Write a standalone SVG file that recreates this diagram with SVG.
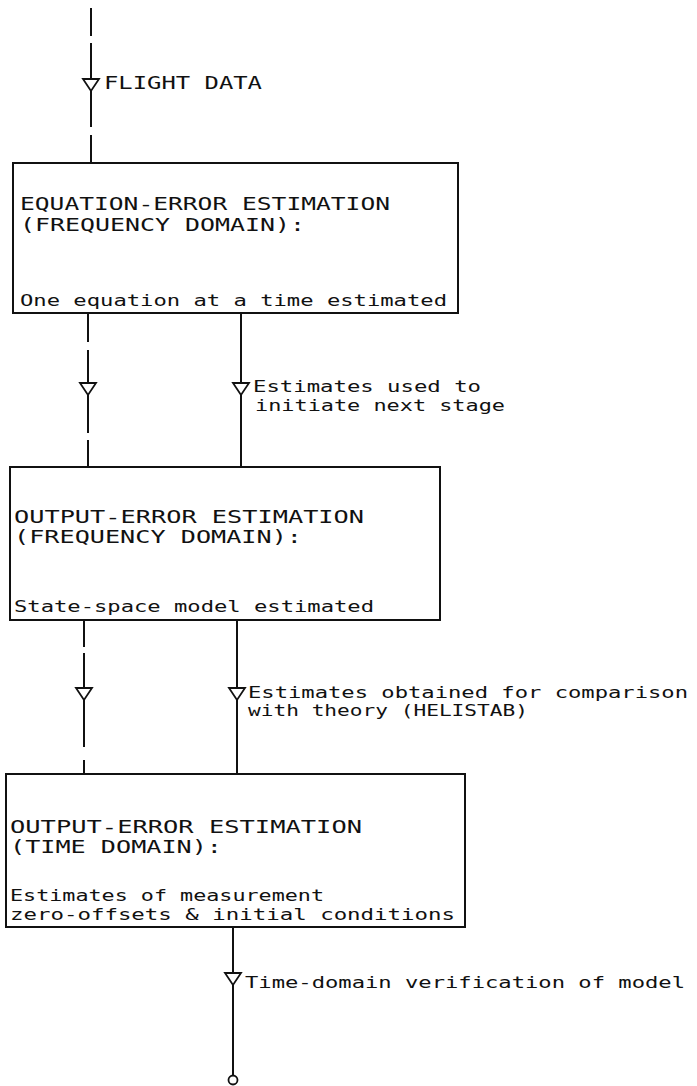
<svg xmlns="http://www.w3.org/2000/svg" width="697" height="1086" viewBox="0 0 697 1086">
<defs>
<style>
.t{font-family:"DejaVu Sans Mono","Liberation Mono",monospace;font-size:17.5px;fill:#111}
.s{font-family:"DejaVu Sans Mono","Liberation Mono",monospace;font-size:15.5px;fill:#111}
.b{fill:#fff;stroke:#111;stroke-width:2}
.c{stroke:#111;stroke-width:2;fill:none}
.a{fill:#fff;stroke:#111;stroke-width:1.8}
</style>
<path id="tri" d="M-8,0 L8,0 L0,12 Z"/>
</defs>
<rect width="697" height="1086" fill="#fff"/>
<g id="connectors">
<line class="c" x1="91" y1="8" x2="91" y2="36"/>
<line class="c" x1="91" y1="43" x2="91" y2="127" stroke-width="1.6"/>
<line class="c" x1="91" y1="135" x2="91" y2="162"/>
<use href="#tri" class="a" x="91" y="79"/>
<line class="c" x1="88" y1="314" x2="88" y2="342"/>
<line class="c" x1="88" y1="350" x2="88" y2="433"/>
<line class="c" x1="88" y1="440" x2="88" y2="467"/>
<use href="#tri" class="a" x="88" y="383"/>
<line class="c" x1="241" y1="314" x2="241" y2="467"/>
<use href="#tri" class="a" x="241" y="383"/>
<line class="c" x1="84" y1="620" x2="84" y2="647"/>
<line class="c" x1="84" y1="653" x2="84" y2="747"/>
<line class="c" x1="84" y1="760" x2="84" y2="774"/>
<use href="#tri" class="a" x="84" y="688"/>
<line class="c" x1="237" y1="620" x2="237" y2="774"/>
<use href="#tri" class="a" x="237" y="688"/>
<line class="c" x1="233" y1="927" x2="233" y2="1076"/>
<use href="#tri" class="a" x="233" y="973"/>
<circle class="a" cx="233" cy="1080" r="4.5"/>
</g>
<g id="label-flight">
<text class="t" x="104" y="89" textLength="158" lengthAdjust="spacingAndGlyphs">FLIGHT DATA</text>
</g>
<g id="node-equation-error">
<rect class="b" x="13" y="163" width="445" height="150"/>
<text class="t" x="20" y="210" textLength="370" lengthAdjust="spacingAndGlyphs">EQUATION-ERROR ESTIMATION</text>
<text class="t" x="20" y="231" textLength="285" lengthAdjust="spacingAndGlyphs">(FREQUENCY DOMAIN):</text>
<text class="s" x="20" y="306" textLength="427" lengthAdjust="spacingAndGlyphs">One equation at a time estimated</text>
</g>
<g id="label-init">
<text class="s" x="253" y="392" textLength="228" lengthAdjust="spacingAndGlyphs">Estimates used to</text>
<text class="s" x="255" y="411" textLength="250" lengthAdjust="spacingAndGlyphs">initiate next stage</text>
</g>
<g id="node-output-error-freq">
<rect class="b" x="10" y="467" width="430" height="153"/>
<text class="t" x="14" y="523" textLength="350" lengthAdjust="spacingAndGlyphs">OUTPUT-ERROR ESTIMATION</text>
<text class="t" x="14" y="543" textLength="288" lengthAdjust="spacingAndGlyphs">(FREQUENCY DOMAIN):</text>
<text class="s" x="14" y="612" textLength="360" lengthAdjust="spacingAndGlyphs">State-space model estimated</text>
</g>
<g id="label-compare">
<text class="s" x="248" y="698" textLength="440" lengthAdjust="spacingAndGlyphs">Estimates obtained for comparison</text>
<text class="s" x="248" y="716" textLength="280" lengthAdjust="spacingAndGlyphs">with theory (HELISTAB)</text>
</g>
<g id="node-output-error-time">
<rect class="b" x="6" y="774" width="459" height="153"/>
<text class="t" x="10" y="833" textLength="352" lengthAdjust="spacingAndGlyphs">OUTPUT-ERROR ESTIMATION</text>
<text class="t" x="10" y="853" textLength="212" lengthAdjust="spacingAndGlyphs">(TIME DOMAIN):</text>
<text class="s" x="10" y="901" textLength="314" lengthAdjust="spacingAndGlyphs">Estimates of measurement</text>
<text class="s" x="10" y="920" textLength="445" lengthAdjust="spacingAndGlyphs">zero-offsets &amp; initial conditions</text>
</g>
<g id="label-verify">
<text class="s" x="245" y="988" textLength="440" lengthAdjust="spacingAndGlyphs">Time-domain verification of model</text>
</g>
</svg>
